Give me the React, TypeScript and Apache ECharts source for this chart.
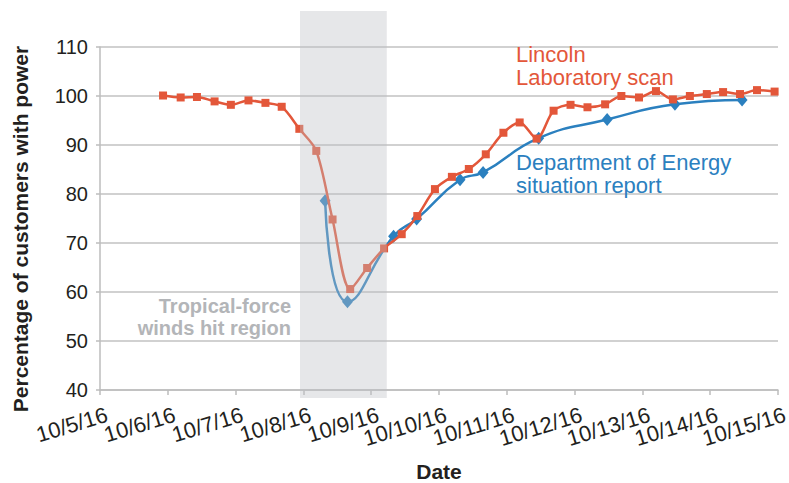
import React, { useEffect, useRef } from "react";
import * as echarts from "echarts";

const xTickValues = [5, 6, 7, 8, 9, 10, 11, 12, 13, 14, 15];
const xTickLabels = ["10/5/16", "10/6/16", "10/7/16", "10/8/16", "10/9/16", "10/10/16", "10/11/16", "10/12/16", "10/13/16", "10/14/16", "10/15/16"];
const yTicks = [40, 50, 60, 70, 80, 90, 100, 110];

// x = day of October 2016 (fractional), y = percent of customers with power
const lincolnX = [5.93, 6.19, 6.43, 6.69, 6.93, 7.19, 7.44, 7.68, 7.94, 8.19, 8.43, 8.69, 8.94, 9.19, 9.45, 9.68, 9.94, 10.19, 10.44, 10.69, 10.95, 11.19, 11.44, 11.69, 11.94, 12.19, 12.45, 12.69, 12.95, 13.2, 13.45, 13.7, 13.95, 14.19, 14.44, 14.69, 14.95];
const lincolnY = [100.1, 99.7, 99.8, 98.9, 98.2, 99.1, 98.6, 97.8, 93.3, 88.8, 74.8, 60.6, 64.9, 68.9, 71.8, 75.5, 81.0, 83.5, 85.1, 88.1, 92.5, 94.6, 91.3, 97.0, 98.2, 97.7, 98.3, 100.0, 99.7, 101.0, 99.3, 100.0, 100.4, 100.8, 100.4, 101.2, 100.9];

const doeX = [8.32, 8.65, 9.33, 9.67, 10.31, 10.65, 11.47, 12.48, 13.48, 14.47];
const doeY = [78.6, 58.0, 71.4, 74.9, 82.9, 84.4, 91.4, 95.2, 98.3, 99.2];

const windBand = [7.95, 9.23];

const RED = "#e3573a";
const BLUE = "#2b80bf";
const FONT = "'Liberation Sans', Arial, sans-serif";

export default function App() {
  const ref = useRef<HTMLDivElement>(null);
  useEffect(() => {
    document.body.style.margin = "0";
    if (!ref.current) return;
    const chart = echarts.init(ref.current, null, { renderer: "svg" });
    const option: any = {
      animation: false,
      backgroundColor: "#ffffff",
      grid: { left: 100, right: 11, top: 47, bottom: 93, containLabel: false, outerBoundsMode: "none" },
      xAxis: {
        type: "value",
        min: 5,
        max: 15,
        interval: 1,
        name: "Date",
        nameLocation: "middle",
        nameGap: 71,
        nameTextStyle: { fontFamily: FONT, fontSize: 21, color: "#231f20", fontWeight: "bold" },
        axisLine: { show: true, lineStyle: { color: "#bdbdbd", width: 1.5 } },
        axisTick: { show: true, length: 5, lineStyle: { color: "#bdbdbd", width: 1.5 } },
        splitLine: { show: false },
        axisLabel: { show: false },
      },
      yAxis: {
        type: "value",
        min: 40,
        max: 110,
        interval: 10,
        axisLine: { show: true, lineStyle: { color: "#bdbdbd", width: 1.5 } },
        axisTick: { show: true, length: 4, lineStyle: { color: "#bdbdbd", width: 1.5 } },
        splitLine: { show: true, lineStyle: { color: "#c2c2c2", width: 1.5 } },
        axisLabel: {
          margin: 12,
          fontFamily: FONT,
          fontSize: 20,
          color: "#231f20",
          formatter: (v: number) => (yTicks.includes(v) ? String(v) : ""),
        },
      },
      series: [
        {
          name: "Lincoln Laboratory scan",
          type: "line",
          data: lincolnX.map((x, i) => [x, lincolnY[i]]),
          smooth: 0.3,
          symbol: "rect",
          symbolSize: 8,
          showAllSymbol: true,
          lineStyle: { color: RED, width: 2.5 },
          itemStyle: { color: RED },
          z: 3,
        },
        {
          name: "Department of Energy situation report",
          type: "line",
          data: doeX.map((x, i) => [x, doeY[i]]),
          smooth: 0.5,
          symbol: "diamond",
          symbolSize: [11, 13],
          lineStyle: { color: BLUE, width: 2.5 },
          itemStyle: { color: BLUE },
          z: 2,
        },
      ],
    };
    chart.setOption(option);

    const toPx = (x: number, y: number) =>
      chart.convertToPixel({ xAxisIndex: 0, yAxisIndex: 0 }, [x, y]) as number[];
    const p0 = toPx(windBand[0], 110);
    const p1 = toPx(windBand[1], 40);
    const top = p0[1] - 36;
    const bottom = p1[1] + 8;

    const label = (text: string, x: number, y: number, fill: string, font: string, align = "left") => ({
      type: "text",
      z: 60,
      x,
      y,
      silent: true,
      style: { text, align, verticalAlign: "middle", fill, font },
    });

    const xLabels = xTickValues.map((v, i) => {
      const p = toPx(v, 40);
      return {
        type: "text",
        z: 60,
        x: p[0] + 7,
        y: p[1] + 24,
        rotation: (17 * Math.PI) / 180,
        silent: true,
        style: {
          text: xTickLabels[i],
          align: "right",
          verticalAlign: "middle",
          fill: "#231f20",
          font: `22px ${FONT}`,
        },
      };
    });

    chart.setOption({
      graphic: [
        {
          type: "rect",
          z: 50,
          silent: true,
          shape: { x: p0[0], y: top, width: p1[0] - p0[0], height: bottom - top },
          style: { fill: "rgba(188,191,197,0.38)" },
        },
        label("Tropical-force", p0[0] - 9, 306, "#b3b5b8", `bold 20px ${FONT}`, "right"),
        label("winds hit region", p0[0] - 9, 328, "#b3b5b8", `bold 20px ${FONT}`, "right"),
        label("Lincoln", 516, 54, RED, `22px ${FONT}`),
        label("Laboratory scan", 516, 77, RED, `22px ${FONT}`),
        label("Department of Energy", 516, 162, BLUE, `22px ${FONT}`),
        label("situation report", 516, 185, BLUE, `22px ${FONT}`),
        ...xLabels,
        {
          type: "text",
          z: 60,
          x: 20,
          y: 229,
          rotation: Math.PI / 2,
          silent: true,
          style: {
            text: "Percentage of customers with power",
            align: "center",
            verticalAlign: "middle",
            fill: "#231f20",
            font: `bold 21px ${FONT}`,
          },
        },
      ],
    });

    return () => chart.dispose();
  }, []);
  return <div ref={ref} style={{ width: 789, height: 483 }} />;
}
